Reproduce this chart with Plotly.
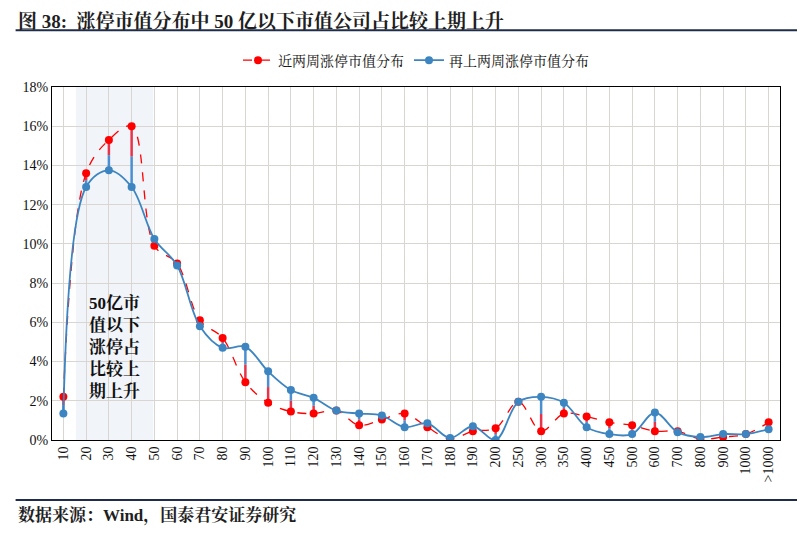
import plotly.graph_objects as go

categories = ["10", "20", "30", "40", "50", "60", "70", "80", "90", "100", "110", "120", "130",
              "140", "150", "160", "170", "180", "190", "200", "250", "300", "350", "400", "450",
              "500", "600", "700", "800", "900", "1000", ">1000"]
recent = [2.2, 13.6, 15.3, 16.0, 9.9, 9.0, 6.1, 5.2, 2.95, 1.9, 1.45, 1.35, 1.5, 0.75, 1.05, 1.35,
          0.65, 0.05, 0.45, 0.6, 1.95, 0.45, 1.35, 1.2, 0.9, 0.75, 0.45, 0.45, 0.05, 0.15, 0.3, 0.9]
previous = [1.35, 12.9, 13.75, 12.9, 10.25, 8.9, 5.8, 4.7, 4.75, 3.5, 2.55, 2.15, 1.5, 1.35, 1.25, 0.65,
            0.85, 0.1, 0.7, 0.0, 1.95, 2.2, 1.9, 0.65, 0.3, 0.3, 1.4, 0.4, 0.15, 0.3, 0.3, 0.55]

xs = list(range(len(categories)))
serif = "Liberation Serif, Noto Serif CJK SC, Noto Sans CJK SC, serif"
RED = "#ff0000"
BLUE = "#3d85c0"

fig = go.Figure()

# connectors between the two series: red half near the red point, blue half near the blue one
rx, ry, bx, by = [], [], [], []
for x, r, p in zip(xs, recent, previous):
    m = (r + p) / 2
    rx += [x, x, None]; ry += [r / 100, m / 100, None]
    bx += [x, x, None]; by += [m / 100, p / 100, None]
fig.add_trace(go.Scatter(x=rx, y=ry, mode="lines", line=dict(color="#e8344a", width=2.5),
                         showlegend=False, hoverinfo="skip"))
fig.add_trace(go.Scatter(x=bx, y=by, mode="lines", line=dict(color="#4a8fd0", width=2.5),
                         showlegend=False, hoverinfo="skip"))

fig.add_trace(go.Scatter(x=xs, y=[v / 100 for v in recent], name="近两周涨停市值分布",
                         mode="lines+markers", line=dict(color=RED, dash="dash", width=1.3, shape="spline"),
                         marker=dict(color=RED, size=8)))
fig.add_trace(go.Scatter(x=xs, y=[v / 100 for v in previous], name="再上两周涨停市值分布",
                         mode="lines+markers", line=dict(color=BLUE, width=1.8, shape="spline"),
                         marker=dict(color=BLUE, size=8)))

fig.add_vrect(x0=0.55, x1=3.95, fillcolor="#dce4ef", opacity=0.4, line_width=0, layer="below")
fig.add_annotation(x=2.25, y=0.047, text="<b>50亿市<br>值以下<br>涨停占<br>比较上<br>期上升</b>", showarrow=False,
                   font=dict(family=serif, size=17, color="#111"), align="center")

fig.update_layout(
    width=805, height=535,
    paper_bgcolor="white", plot_bgcolor="white",
    margin=dict(l=44, r=33, t=79, b=103),
    font=dict(family=serif, size=14, color="#111"),
    legend=dict(orientation="h", x=0.5, xanchor="center", y=1.075, yanchor="middle",
                font=dict(size=14), bgcolor="rgba(0,0,0,0)"),
    xaxis=dict(tickmode="array", tickvals=xs, ticktext=categories, tickangle=-90,
               range=[-0.5, len(xs) - 0.5], showgrid=True, gridcolor="#d9d6d2",
               showline=True, linecolor="black", mirror=True, zeroline=False),
    yaxis=dict(range=[0, 0.18], dtick=0.02, tickformat=".0%", showgrid=True, gridcolor="#d9d6d2",
               showline=True, linecolor="black", mirror=True, zeroline=False),
)

fig.add_annotation(xref="paper", yref="paper", x=-0.05, y=1.187, yanchor="middle", xanchor="left",
                   text="<b>图 38:  涨停市值分布中 50 亿以下市值公司占比较上期上升</b>",
                   showarrow=False, font=dict(family=serif, size=19, color="#1f1f1f"))
fig.add_shape(type="line", xref="paper", yref="paper", x0=-0.05, x1=1.03, y0=1.161, y1=1.161,
              line=dict(color="#1f2d4a", width=2))
fig.add_shape(type="line", xref="paper", yref="paper", x0=-0.05, x1=1.03, y0=-0.17, y1=-0.17,
              line=dict(color="#1f2d4a", width=2))
fig.add_annotation(xref="paper", yref="paper", x=-0.05, y=-0.178, yanchor="top", xanchor="left",
                   text="<b>数据来源：Wind，国泰君安证券研究</b>",
                   showarrow=False, font=dict(family=serif, size=17, color="#1f1f1f"))

fig.write_html("out.html")
